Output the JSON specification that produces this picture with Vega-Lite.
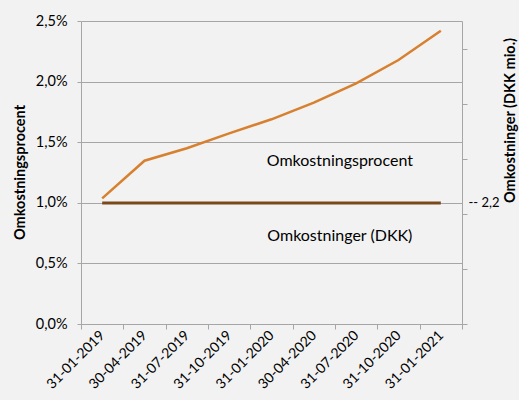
{
  "$schema": "https://vega.github.io/schema/vega-lite/v6.json",
  "autosize": "none",
  "width": 381,
  "height": 303,
  "padding": {"left": 81, "top": 21, "right": 57, "bottom": 76},
  "background": "#F2F2F2",
  "config": {
    "view": {"stroke": null},
    "font": "Lato",
    "axis": {"labelFont": "Lato", "titleFont": "Lato", "labelColor": "#000000", "titleColor": "#000000", "labelFontSize": 14.5, "titleFontSize": 14.5, "domainColor": "#A6A6A6", "tickColor": "#A6A6A6", "gridColor": "#A6A6A6"}
  },
  "datasets": {
    "pct": [
      {"date": "31-01-2019", "pct": 0.01037},
      {"date": "30-04-2019", "pct": 0.01347},
      {"date": "31-07-2019", "pct": 0.0145},
      {"date": "31-10-2019", "pct": 0.01573},
      {"date": "31-01-2020", "pct": 0.01689},
      {"date": "30-04-2020", "pct": 0.01826},
      {"date": "31-07-2020", "pct": 0.01986},
      {"date": "31-10-2020", "pct": 0.02178},
      {"date": "31-01-2021", "pct": 0.0242}
    ],
    "dkk": [
      {"date": "31-01-2019", "dkk": 2.2},
      {"date": "30-04-2019", "dkk": 2.2},
      {"date": "31-07-2019", "dkk": 2.2},
      {"date": "31-10-2019", "dkk": 2.2},
      {"date": "31-01-2020", "dkk": 2.2},
      {"date": "30-04-2020", "dkk": 2.2},
      {"date": "31-07-2020", "dkk": 2.2},
      {"date": "31-10-2020", "dkk": 2.2},
      {"date": "31-01-2021", "dkk": 2.2}
    ],
    "notes": [
      {"date": "30-04-2020", "pct": 0.01347, "label": "Omkostningsprocent"},
      {"date": "30-04-2020", "pct": 0.00726, "label": "Omkostninger (DKK)"}
    ]
  },
  "encoding": {
    "x": {
      "field": "date", "type": "nominal", "sort": null, "title": null,
      "scale": {"paddingInner": 0, "paddingOuter": 0},
      "axis": {"labelAngle": -45, "tickBand": "extent", "tickSize": 5, "labelPadding": 4, "domainColor": "#A6A6A6", "labelAlign": "right", "labelBaseline": "middle", "labelFontSize": 14}
    }
  },
  "layer": [
    {
      "layer": [
        {
          "data": {"name": "pct"},
          "mark": {"type": "line", "color": "#D7802F", "strokeWidth": 2.5},
          "encoding": {
            "y": {
              "field": "pct", "type": "quantitative",
              "scale": {"domain": [0, 0.025], "nice": false},
              "axis": {"title": "Omkostningsprocent", "titleFontWeight": "bold", "values": [0, 0.005, 0.01, 0.015, 0.02, 0.025], "labelExpr": "replace(format(datum.value, '.1%'), '.', ',')", "tickSize": 4, "labelPadding": 10, "grid": true, "titleX": -61, "titleY": 151, "titleAlign": "center", "titleBaseline": "middle", "titleAngle": 270}
            }
          }
        },
        {
          "data": {"name": "notes"},
          "mark": {"type": "text", "fontSize": 16, "font": "Lato", "color": "#000000", "dx": 26, "align": "center", "baseline": "middle"},
          "encoding": {
            "y": {"field": "pct", "type": "quantitative"},
            "text": {"field": "label"}
          }
        }
      ]
    },
    {
      "data": {"name": "dkk"},
      "mark": {"type": "line", "color": "#7A4A1B", "strokeWidth": 3},
      "encoding": {
        "y": {
          "field": "dkk", "type": "quantitative",
          "scale": {"domain": [0, 5.509], "nice": false},
          "axis": {"orient": "right", "title": "Omkostninger (DKK mio.)", "titleFontWeight": "bold", "grid": false, "values": [0, 1, 2, 2.2, 3, 4, 5], "labelExpr": "datum.value == 2.2 ? '-- 2,2' : ''", "tickOpacity": {"condition": {"test": "datum.value == 2.2", "value": 0}, "value": 1}, "tickSize": 5, "labelPadding": 1, "labelFontSize": 13, "titleAngle": 270, "titleX": 48, "titleY": 99, "titleAlign": "center", "titleBaseline": "middle"}
        }
      }
    }
  ],
  "resolve": {"scale": {"y": "independent"}}
}
